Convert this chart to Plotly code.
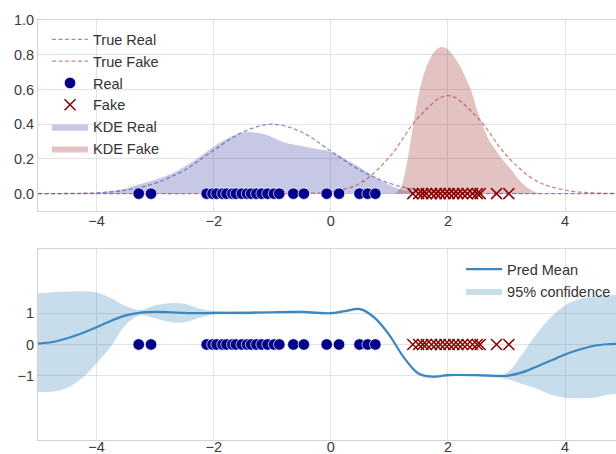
import plotly.graph_objects as go

# ---------------- data ----------------
real_pts = [-3.28, -3.07, -2.12, -2.02, -1.95, -1.85, -1.78, -1.68, -1.62, -1.52,
            -1.43, -1.36, -1.27, -1.18, -1.08, -0.97, -0.88, -0.64, -0.46, -0.07,
            0.14, 0.49, 0.63, 0.76]
fake_pts = [1.40, 1.50, 1.57, 1.63, 1.72, 1.80, 1.87, 1.95, 2.02, 2.10, 2.17,
            2.25, 2.33, 2.42, 2.50, 2.55, 2.83, 3.04]

true_x = [-5.0, -4.5, -4.0, -3.5, -3.0, -2.5, -2.0, -1.5, -1.0, -0.5, 0.0,
          0.5, 1.0, 1.5, 2.0, 2.5, 3.0, 3.5, 4.0, 4.5, 5.0]
true_real = [0.0002, 0.001, 0.005, 0.02, 0.06, 0.135, 0.25, 0.355, 0.40, 0.355, 0.245,
             0.135, 0.06, 0.02, 0.005, 0.001, 0.0002, 0.0, 0.0, 0.0, 0.0]
true_fake = [0.0, 0.0, 0.0, 0.0, 0.0, 0.0, 0.0, 0.0, 0.0, 0.002, 0.01,
             0.06, 0.21, 0.44, 0.565, 0.44, 0.22, 0.075, 0.02, 0.004, 0.0005]

kde_real_x = [-5.0, -4.5, -4.0, -3.75, -3.5, -3.25, -3.0, -2.75, -2.5, -2.25, -2.0,
              -1.75, -1.5, -1.25, -1.0, -0.75, -0.5, -0.25, 0.0, 0.25, 0.5, 0.75,
              1.0, 1.25, 1.5, 1.75, 2.0]
kde_real_y = [0.0, 0.001, 0.005, 0.015, 0.03, 0.055, 0.08, 0.11, 0.155, 0.21, 0.27,
              0.32, 0.352, 0.35, 0.325, 0.29, 0.275, 0.258, 0.24, 0.20, 0.15, 0.097,
              0.05, 0.02, 0.005, 0.001, 0.0]

kde_fake_x = [1.1, 1.2, 1.3, 1.4, 1.5, 1.6, 1.7, 1.8, 1.9, 2.0, 2.1, 2.2, 2.3, 2.4,
              2.5, 2.6, 2.7, 2.8, 2.9, 3.0, 3.1, 3.2, 3.3, 3.4, 3.5, 3.6]
kde_fake_y = [0.0, 0.04, 0.18, 0.38, 0.57, 0.70, 0.78, 0.83, 0.845, 0.83, 0.79, 0.74,
              0.67, 0.59, 0.48, 0.39, 0.31, 0.26, 0.21, 0.17, 0.13, 0.085, 0.05, 0.025,
              0.008, 0.0]

gp_x = [-5.0, -4.75, -4.5, -4.25, -4.0, -3.75, -3.5, -3.25, -3.0, -2.75, -2.5, -2.25,
        -2.0, -1.5, -1.0, -0.5, 0.0, 0.25, 0.5, 0.75, 1.0, 1.25, 1.5, 1.75, 2.0, 2.5,
        3.0, 3.25, 3.5, 3.75, 4.0, 4.25, 4.5, 4.75, 5.0]
gp_mean = [0.03, 0.08, 0.20, 0.36, 0.55, 0.76, 0.93, 1.02, 1.04, 1.03, 1.01, 1.00,
           1.01, 1.01, 1.03, 1.04, 1.00, 1.07, 1.13, 0.85, 0.30, -0.42, -0.93, -1.03,
           -0.98, -0.98, -1.00, -0.90, -0.72, -0.52, -0.32, -0.16, -0.04, 0.01, 0.03]
gp_upper = [1.63, 1.67, 1.69, 1.70, 1.66, 1.48, 1.22, 1.10, 1.25, 1.32, 1.30, 1.15,
            1.07, 1.06, 1.07, 1.08, 1.04, 1.10, 1.17, 0.90, 0.35, -0.38, -0.88, -0.98,
            -0.94, -0.94, -0.90, -0.35, 0.30, 0.85, 1.25, 1.45, 1.53, 1.58, 1.60]
gp_lower = [-1.52, -1.50, -1.38, -1.08, -0.60, -0.05, 0.63, 0.93, 0.84, 0.72, 0.70, 0.85,
            0.95, 0.96, 0.99, 1.00, 0.96, 1.02, 1.09, 0.80, 0.25, -0.47, -0.98, -1.08,
            -1.02, -1.02, -1.10, -1.25, -1.40, -1.60, -1.70, -1.72, -1.70, -1.60, -1.55]

x_ticks = [-4, -2, 0, 2, 4]
top_y_ticks = [0.0, 0.2, 0.4, 0.6, 0.8, 1.0]
bot_y_ticks = [-1, 0, 1]

# ---------------- styles ----------------
FONT = "Liberation Sans, Arial, sans-serif"
DARKBLUE = "#00008b"
DARKRED = "#8b0000"
GRID = "#e3e3e3"
SPINE = "#d4d4d4"

fig = go.Figure()

# top panel
fig.add_trace(go.Scatter(x=kde_real_x, y=kde_real_y, mode="lines", name="KDE Real",
                         fill="tozeroy", fillcolor="rgba(0,0,139,0.22)",
                         line=dict(width=0, color="rgba(0,0,139,0.22)", shape="spline"),
                         legendrank=5, xaxis="x", yaxis="y"))
fig.add_trace(go.Scatter(x=kde_fake_x, y=kde_fake_y, mode="lines", name="KDE Fake",
                         fill="tozeroy", fillcolor="rgba(139,0,0,0.24)",
                         line=dict(width=0, color="rgba(139,0,0,0.24)", shape="spline"),
                         legendrank=6, xaxis="x", yaxis="y"))
fig.add_trace(go.Scatter(x=true_x, y=true_real, mode="lines", name="True Real",
                         line=dict(width=1.3, color="rgba(70,70,170,0.6)", dash="4px,2.5px",
                                   shape="spline"),
                         legendrank=1, xaxis="x", yaxis="y"))
fig.add_trace(go.Scatter(x=true_x, y=true_fake, mode="lines", name="True Fake",
                         line=dict(width=1.3, color="rgba(160,60,60,0.6)", dash="4px,2.5px",
                                   shape="spline"),
                         legendrank=2, xaxis="x", yaxis="y"))
fig.add_trace(go.Scatter(x=real_pts, y=[0] * len(real_pts), mode="markers", name="Real",
                         marker=dict(size=11.5, color=DARKBLUE, line=dict(width=0.7, color="white")),
                         legendrank=3, xaxis="x", yaxis="y"))
fig.add_trace(go.Scatter(x=fake_pts, y=[0] * len(fake_pts), mode="markers", name="Fake",
                         marker=dict(size=11, symbol="x-thin", color=DARKRED,
                                     line=dict(width=1.5, color=DARKRED)),
                         legendrank=4, xaxis="x", yaxis="y"))

# bottom panel
fig.add_trace(go.Scatter(x=gp_x, y=gp_lower, mode="lines", showlegend=False,
                         line=dict(width=0, color="rgba(31,119,180,0.25)", shape="spline"),
                         hoverinfo="skip", xaxis="x2", yaxis="y2", legend="legend2"))
fig.add_trace(go.Scatter(x=gp_x, y=gp_upper, mode="lines", name="95% confidence",
                         fill="tonexty", fillcolor="rgba(31,119,180,0.25)",
                         line=dict(width=0, color="rgba(31,119,180,0.25)", shape="spline"),
                         legendrank=2, xaxis="x2", yaxis="y2", legend="legend2"))
fig.add_trace(go.Scatter(x=gp_x, y=gp_mean, mode="lines", name="Pred Mean",
                         line=dict(width=2.2, color="#3d87c0", shape="spline"),
                         legendrank=1, xaxis="x2", yaxis="y2", legend="legend2"))
fig.add_trace(go.Scatter(x=real_pts, y=[0] * len(real_pts), mode="markers", showlegend=False,
                         marker=dict(size=11.5, color=DARKBLUE, line=dict(width=0.7, color="white")),
                         xaxis="x2", yaxis="y2", legend="legend2"))
fig.add_trace(go.Scatter(x=fake_pts, y=[0] * len(fake_pts), mode="markers", showlegend=False,
                         marker=dict(size=11, symbol="x-thin", color=DARKRED,
                                     line=dict(width=1.5, color=DARKRED)),
                         xaxis="x2", yaxis="y2", legend="legend2"))

axis_common = dict(showgrid=True, gridcolor=GRID, gridwidth=1, zeroline=False,
                   showline=True, linecolor=SPINE, linewidth=1, mirror=True,
                   automargin=False, ticks="",
                   tickfont=dict(family=FONT, size=14.5, color="#3a3a3a"))

fig.update_layout(
    width=616, height=454,
    margin=dict(l=38, r=0, t=20, b=14, autoexpand=False),
    paper_bgcolor="white", plot_bgcolor="white",
    font=dict(family=FONT, size=14.5, color="#333333"),
    xaxis=dict(domain=[0, 1], range=[-5, 4.87], tickvals=x_ticks, anchor="y",
               ticklabelstandoff=-3, **axis_common),
    yaxis=dict(domain=[0.5452, 1], range=[-0.1, 1.0], tickvals=top_y_ticks,
               tickformat=".1f", anchor="x", **axis_common),
    xaxis2=dict(domain=[0, 1], range=[-5, 4.87], tickvals=x_ticks, anchor="y2",
                ticklabelstandoff=-6, **axis_common),
    yaxis2=dict(domain=[0, 0.4548], range=[-3.05, 3.05], tickvals=bot_y_ticks,
                anchor="x2", **axis_common),
    legend=dict(x=0.0156, y=0.992, xanchor="left", yanchor="top", traceorder="normal",
                bgcolor="rgba(0,0,0,0)", font=dict(family=FONT, size=14.5, color="#333333"),
                itemwidth=36),
    legend2=dict(x=0.732, y=0.445, xanchor="left", yanchor="top", traceorder="normal",
                 bgcolor="rgba(0,0,0,0)", font=dict(family=FONT, size=14.5, color="#333333"),
                 itemwidth=36),
    showlegend=True,
)

# remove the browser's default 8px page margin so the figure fills the window exactly
fig.write_html("out.html", config={"displayModeBar": False},
               post_script="document.body.style.margin='0';document.body.style.overflow='hidden';")
